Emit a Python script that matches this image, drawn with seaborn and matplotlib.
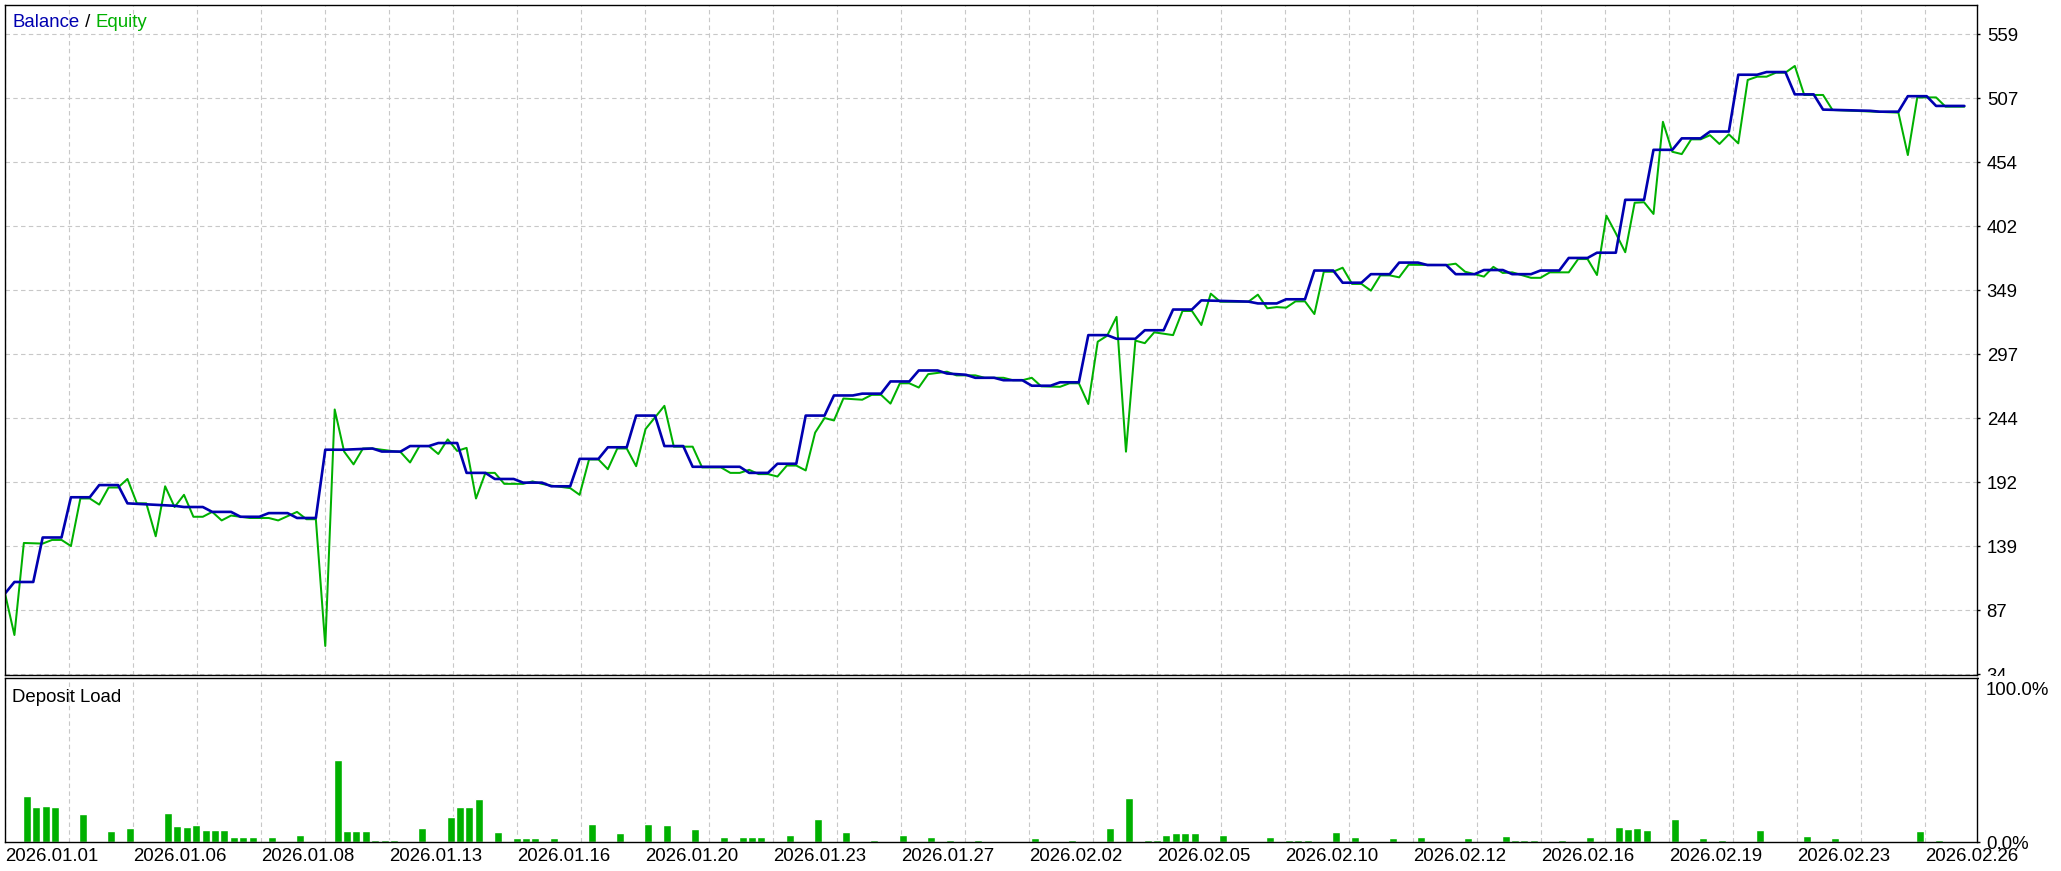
import numpy as np
import matplotlib
matplotlib.use('Agg')
import matplotlib.pyplot as plt
import seaborn as sns
from matplotlib.patches import Rectangle

# balance: deal number -> value (step line)
bal_deal = [0, 1, 3, 4, 6, 7, 9, 10, 12, 13, 18, 19, 21, 22, 24, 25, 27, 28, 30, 31,
            33, 34, 36, 39, 40, 42, 43, 45, 46, 48, 49, 51, 52, 54, 55, 57, 58, 60, 61, 63,
            64, 66, 67, 69, 70, 72, 73, 78, 79, 81, 82, 84, 85, 87, 88, 90, 91, 93, 94, 96,
            97, 99, 100, 102, 103, 105, 106, 108, 109, 111, 112, 114, 115, 117, 118, 120, 121, 123, 124, 126,
            127, 132, 133, 135, 136, 138, 139, 141, 142, 144, 145, 147, 148, 150, 151, 153, 154, 156, 157, 159,
            160, 162, 163, 165, 166, 168, 169, 171, 172, 174, 175, 177, 178, 180, 181, 183, 184, 186, 187, 189,
            190, 192, 193, 198, 199, 201, 202, 204, 205, 208]
bal_val = [100, 109.5, 109.5, 146, 146, 179, 179, 189, 189, 174, 172, 171, 171, 167, 167, 163, 163, 166, 166, 162,
           162, 218, 218, 219, 216.5, 216.5, 221, 221, 223.5, 223.5, 199, 199, 194, 194, 191, 191, 188, 188, 210.5, 210.5,
           220, 220, 246, 246, 221, 221, 204, 204, 199, 199, 206.5, 206.5, 246, 246, 262.5, 262.5, 264, 264, 274, 274,
           283, 283, 280.5, 279.5, 277, 277, 275, 275, 270.5, 270.5, 273.3, 273.3, 312, 312, 309, 309, 316, 316, 333, 333,
           340.5, 339.5, 338, 338, 341.4, 341.4, 365, 365, 355, 355, 362, 362, 371.5, 371.5, 369.5, 369.5, 362, 362, 365.4, 365.4,
           362, 362, 365, 365, 375.3, 375.3, 379.6, 379.6, 423, 423, 464, 464, 473.4, 473.4, 479, 479, 525.6, 525.6, 527.8, 527.8,
           509.5, 509.5, 497, 496, 495.3, 495.3, 508, 508, 500, 500]

# equity: deal number -> value
eq_deal = [0, 1, 2, 4, 5, 6, 7, 8, 9, 10, 11, 12, 13, 14, 15, 16, 17, 18, 19, 20,
           21, 22, 23, 24, 26, 28, 29, 31, 32, 33, 34, 35, 36, 37, 38, 39, 42, 43, 44, 45,
           46, 47, 48, 49, 50, 51, 52, 53, 55, 56, 57, 58, 60, 61, 62, 63, 64, 65, 66, 67,
           68, 70, 71, 73, 74, 76, 77, 78, 79, 80, 81, 82, 83, 84, 85, 86, 87, 88, 89, 91,
           92, 93, 94, 95, 96, 97, 98, 100, 101, 103, 104, 106, 107, 108, 109, 110, 112, 113, 114, 115,
           116, 117, 118, 119, 120, 121, 122, 124, 125, 126, 127, 128, 129, 132, 133, 134, 135, 136, 137, 138,
           139, 140, 141, 142, 143, 144, 145, 146, 147, 148, 149, 153, 154, 155, 157, 158, 159, 160, 162, 163,
           164, 166, 167, 168, 169, 170, 171, 172, 173, 174, 175, 176, 177, 178, 179, 180, 181, 182, 183, 184,
           185, 186, 187, 188, 189, 190, 191, 193, 194, 201, 202, 203, 205, 206, 208]
eq_val = [100, 66, 141.5, 141, 144, 144, 139, 178, 178, 173, 187, 187, 194, 174, 174, 147, 188, 171, 181, 163,
          163, 167, 160, 164, 162, 162, 160, 167, 161, 161, 57, 251, 216.5, 206, 219, 219, 216, 207.5, 221, 221,
          214.5, 226.5, 217, 219.5, 178, 199, 199, 190, 190, 192, 190, 188.5, 186.5, 181, 210, 210, 202, 219, 219, 204.5,
          235, 254, 220.5, 220.5, 203.5, 203.5, 199, 199, 201.5, 198, 198, 196, 205, 205, 201, 232, 244, 242, 260, 259,
          263, 263, 255.8, 272.5, 272.5, 269, 280, 282, 279, 279, 277, 277, 275, 275, 277, 270, 269.6, 272.5, 272.5, 255.5,
          306.6, 311.5, 327, 216.4, 307.5, 305.4, 314.3, 312, 331.8, 331.8, 320.3, 346, 339.4, 339.4, 345.2, 334, 335, 334.5, 339.7, 339.7,
          329.3, 364, 364, 367.3, 354, 354, 348.5, 361, 361, 359.4, 369.7, 369.5, 370.6, 364, 360, 368, 363, 363.5, 359, 359,
          363.5, 363.5, 374.4, 374.4, 361.3, 410, 395.5, 380, 420.6, 421, 411.4, 487, 462.4, 460.5, 472.6, 472.6, 476, 468.8, 476.7, 469.3,
          521.3, 524, 524, 527.3, 527.3, 532.8, 509, 509, 496.7, 494.5, 459.7, 507, 507, 499.4, 499.4]

# deposit load (%) by deal
load_deal = [2, 3, 4, 5, 8, 11, 13, 17, 18, 19, 20, 21, 22, 23, 24, 25, 26, 28, 31, 35,
             36, 37, 38, 39, 40, 41, 44, 47, 48, 49, 50, 52, 54, 55, 56, 58, 62, 65, 68, 70,
             73, 76, 78, 79, 80, 83, 86, 89, 92, 95, 98, 100, 103, 106, 109, 113, 117, 119, 121, 122,
             123, 124, 125, 126, 129, 131, 134, 136, 137, 138, 141, 143, 147, 150, 152, 155, 159, 160, 161, 162,
             165, 168, 171, 172, 173, 174, 177, 180, 182, 186, 189, 191, 194, 203, 205]
load_pct = [27.8, 21.1, 21.7, 21.1, 16.8, 6.5, 8.3, 17.4, 9.5, 8.9, 10.1, 7.1, 7.1, 7.1, 2.8, 2.8, 2.8, 2.8, 4.1, 49.7,
            6.5, 6.5, 6.5, 1.0, 1.0, 1.0, 8.3, 15.0, 21.1, 21.1, 26.0, 5.9, 2.2, 2.2, 2.2, 2.2, 10.8, 5.3, 10.8, 10.1,
            8.2, 3.1, 3.1, 3.1, 3.1, 4.3, 14.1, 6.1, 1.2, 4.3, 3.1, 1.2, 1.2, 0.6, 2.5, 1.2, 8.6, 27.0, 1.2, 1.2,
            4.3, 5.5, 5.5, 5.5, 4.3, 0.6, 3.1, 1.2, 1.2, 1.2, 6.1, 3.1, 2.5, 3.1, 0.6, 2.5, 3.7, 1.2, 1.2, 1.2,
            1.2, 3.1, 9.2, 8.0, 8.6, 7.4, 14.1, 2.5, 1.2, 7.4, 0.6, 3.7, 2.5, 6.7, 1.2]

date_labels = ['2026.01.01', '2026.01.06', '2026.01.08', '2026.01.13', '2026.01.16', '2026.01.20',
               '2026.01.23', '2026.01.27', '2026.02.02', '2026.02.05', '2026.02.10', '2026.02.12',
               '2026.02.16', '2026.02.19', '2026.02.23', '2026.02.26']
y_labels = ['34', '87', '139', '192', '244', '297', '349', '402', '454', '507', '559']

BLUE = '#0000b0'
GREEN = '#00b000'
GRID = '#c8c8c8'
FS = 13.4

sns.set_style('white')
plt.rcParams['font.family'] = ['Liberation Sans', 'DejaVu Sans']

W, H = 2061, 871
PX_PER_DEAL = 9.42


def px_box(l, t, r, b):
    return [l / W, 1 - b / H, (r - l) / W, (b - t) / H]


fig = plt.figure(figsize=(W / 100, H / 100), dpi=100)
ax1 = fig.add_axes(px_box(5, 5, 1977, 675))
ax2 = fig.add_axes(px_box(5, 677.5, 1977, 842))

x_max = (1977 - 5) / PX_PER_DEAL
grid_x = np.arange(31) * 64 / PX_PER_DEAL
y_ticks = 34 + 52.5 * np.arange(len(y_labels))

# balance / equity panel
sns.lineplot(x=eq_deal, y=eq_val, ax=ax1, color=GREEN, lw=1.45, estimator=None, sort=False)
sns.lineplot(x=bal_deal, y=bal_val, ax=ax1, color=BLUE, lw=1.9, estimator=None, sort=False)
ax1.set_xlim(0, x_max)
ax1.set_ylim(33.2, 582.8)
ax1.set_xticks(grid_x)
ax1.set_xticklabels([])
ax1.tick_params(axis='x', length=0)
ax1.yaxis.tick_right()
ax1.set_yticks(y_ticks)
ax1.set_yticklabels(y_labels)
ax1.tick_params(axis='y', direction='out', length=2.5, width=1, pad=4.5, labelsize=FS, colors='black')
ax1.grid(True, color=GRID, linestyle=(0, (4, 3)), linewidth=0.8)
ax1.set_xlabel('')
ax1.set_ylabel('')

# deposit load panel
sns.barplot(x=np.array(load_deal) + 0.3, y=load_pct, native_scale=True, ax=ax2,
            color=GREEN, saturation=1, width=0.85, errorbar=None)
ax2.set_xlim(0, x_max)
ax2.set_ylim(0, 100)
ax2.set_xticks(grid_x)
ax2.set_xticklabels([date_labels[k // 2] if k % 2 == 0 else '' for k in range(len(grid_x))], ha='left')
ax2.tick_params(axis='x', direction='out', length=2.5, width=1, pad=1.5, labelsize=FS, colors='black')
ax2.yaxis.tick_right()
ax2.set_yticks([0, 100])
ax2.set_yticklabels(['0.0%', ''])
ax2.tick_params(axis='y', direction='out', length=2.5, width=1, pad=4.5, labelsize=FS, colors='black')
ax2.grid(axis='x', color=GRID, linestyle=(0, (4, 3)), linewidth=0.8)
ax2.grid(axis='y', visible=False)
ax2.set_xlabel('')
ax2.set_ylabel('')
ax2.annotate('100.0%', xy=(1, 1), xycoords='axes fraction', xytext=(6.5, -3.5),
             textcoords='offset points', ha='left', va='top', fontsize=FS, color='black')

for ax in (ax1, ax2):
    for s in ax.spines.values():
        s.set_color('black')
        s.set_linewidth(1.0)

# titles
t1 = fig.text(12.7 / W, 1 - 27.3 / H, 'Balance', color=BLUE, fontsize=FS, va='baseline')
t2 = fig.text(0, 0, ' / ', color='black', fontsize=FS)
t2.set_position((0, 0))
t2.remove()
t2 = ax1.annotate(' / ', xy=(1, 0), xycoords=t1, ha='left', va='bottom', fontsize=FS, color='black')
ax1.annotate('Equity', xy=(1, 0), xycoords=t2, ha='left', va='bottom', fontsize=FS, color=GREEN)
fig.text(12.5 / W, 1 - 701.7 / H, 'Deposit Load', color='black', fontsize=FS, va='baseline')

# bottom of the "34" label is hidden by the lower panel in the original
fig.add_artist(Rectangle((1978.5 / W, 1 - 682 / H), (W - 1978.5) / W, 5.7 / H,
                         transform=fig.transFigure, facecolor='white', edgecolor='none', zorder=10))

fig.savefig('out.png', dpi=100)
